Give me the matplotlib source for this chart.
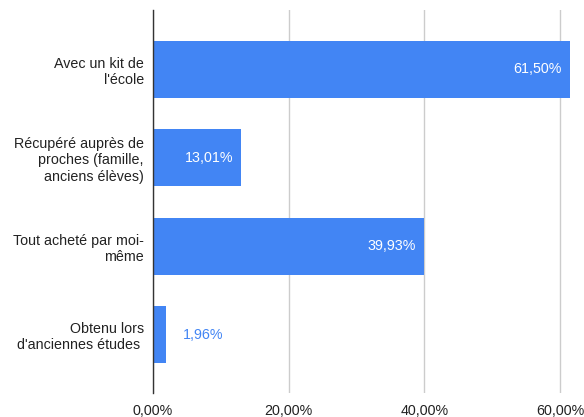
import matplotlib.pyplot as plt

plt.rcParams["font.family"] = ["Liberation Sans", "DejaVu Sans"]

categories = [
    "Avec un kit de\nl'école",
    "Récupéré auprès de\nproches (famille,\nanciens élèves)",
    "Tout acheté par moi-\nmême",
    "Obtenu lors\nd'anciennes études ",
]
values = [61.50, 13.01, 39.93, 1.96]
value_labels = ["61,50%", "13,01%", "39,93%", "1,96%"]
xticks = [0, 20, 40, 60]
xtick_labels = ["0,00%", "20,00%", "40,00%", "60,00%"]

BLUE = "#4285f4"

fig = plt.figure(figsize=(5.84, 4.17), dpi=100)
ax = fig.add_axes([0.262, 0.0576, 0.726, 0.918])

pos = list(range(len(categories)))
ax.barh(pos, values, height=0.645, color=BLUE, zorder=2)

ax.set_ylim(3.66, -0.67)
ax.set_xlim(0, 62.5)

ax.set_yticks(pos)
ax.set_yticklabels(categories, fontsize=10.3, color="#222222")
ax.set_xticks(xticks)
ax.set_xticklabels(xtick_labels, fontsize=10.3, color="#222222")
ax.tick_params(axis="y", length=0, pad=6.5)
ax.tick_params(axis="x", length=0, pad=8)

ax.grid(axis="x", color="#cccccc", linewidth=1, zorder=0)
for s in ["top", "right", "bottom"]:
    ax.spines[s].set_visible(False)
ax.spines["left"].set_color("#333333")
ax.spines["left"].set_linewidth(1)
ax.spines["left"].set_zorder(3)

# value labels: inside for long bars, outside for short
for y, v, lab in zip(pos, values, value_labels):
    if v > 5:
        ax.annotate(lab, (v, y), xytext=(-6, 0), textcoords="offset points",
                    ha="right", va="center", color="white", fontsize=10.3)
    else:
        ax.annotate(lab, (v, y), xytext=(12, 0), textcoords="offset points",
                    ha="left", va="center", color=BLUE, fontsize=10.3)

fig.savefig("out.png", dpi=100)
